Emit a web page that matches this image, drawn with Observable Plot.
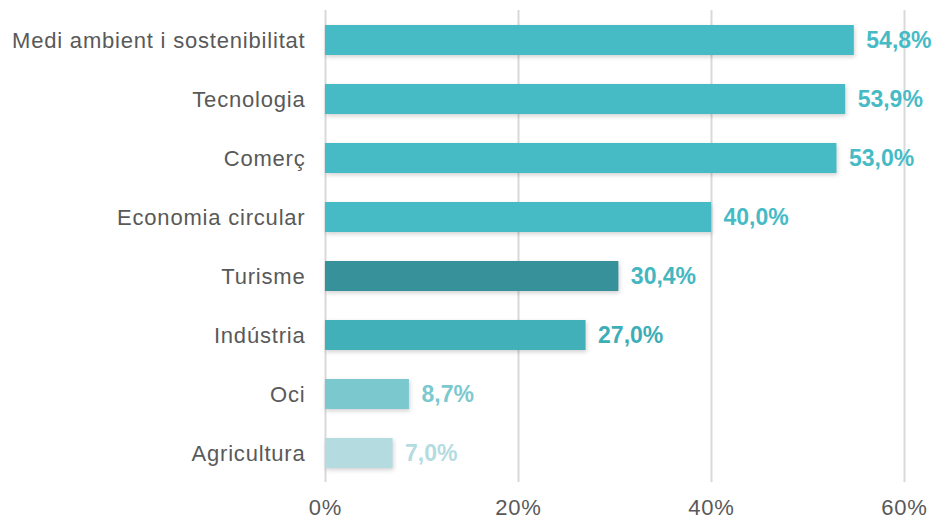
<!DOCTYPE html>
<html>
<head>
<meta charset="utf-8">
<script src="https://cdn.jsdelivr.net/npm/d3@7"></script>
<script src="https://cdn.jsdelivr.net/npm/@observablehq/plot@0.6"></script>
<style>
  html, body { margin: 0; padding: 0; background: #fff; }
  #chart { width: 936px; height: 519px; }
</style>
</head>
<body>
<div id="chart"></div>
<script>
const categories = ["Medi ambient i sostenibilitat", "Tecnologia", "Comerç", "Economia circular", "Turisme", "Indústria", "Oci", "Agricultura"];
const values = [54.8, 53.9, 53.0, 40.0, 30.4, 27.0, 8.7, 7.0];
const xTicks = [0, 20, 40, 60];
const barColors = ["#46BBC6", "#46BBC6", "#46BBC6", "#46BBC6", "#36919A", "#41B0B8", "#7BC9CF", "#B4DCE0"];
const labelColors = ["#46BBC6", "#46BBC6", "#46BBC6", "#46BBC6", "#43B6C0", "#3DAEB7", "#7BC9CF", "#B4DCE0"];

const data = categories.map((c, i) => ({
  category: c, value: values[i], bar: barColors[i], label: labelColors[i]
}));
const fmt = v => v.toFixed(1).replace(".", ",") + "%";

const chart = Plot.plot({
  width: 936,
  height: 519,
  marginLeft: 325,
  marginRight: 32,
  marginTop: 10,
  marginBottom: 37,
  style: { fontFamily: "'Liberation Sans', Arial, sans-serif", background: "#fff" },
  x: { domain: [0, 60], label: null },
  y: { domain: categories, paddingInner: 0.5, paddingOuter: 0.25, label: null },
  marks: [
    Plot.ruleX(xTicks, { stroke: "#d9d9d9", strokeWidth: 2, strokeOpacity: 1 }),
    Plot.barX(data, {
      x: "value", y: "category", fill: d => d.bar,
      imageFilter: "drop-shadow(1px 2px 2px rgba(0,0,0,0.18))"
    }),
    Plot.text(data, {
      x: "value", y: "category", text: d => fmt(d.value),
      fill: d => d.label, textAnchor: "start", dx: 12,
      fontSize: 23, fontWeight: "bold"
    }),
    Plot.axisY({
      label: null, tickSize: 0, tickPadding: 20, fontSize: 22, fill: "#595959"
    }),
    Plot.axisX({
      label: null, ticks: xTicks, tickFormat: d => d + "%", tickSize: 0, tickPadding: 17,
      fontSize: 22, fill: "#595959"
    })
  ]
});
chart.querySelectorAll("g[aria-label='x-axis tick label'] text, g[aria-label='y-axis tick label'] text").forEach(t => t.style.letterSpacing = "0.8px");
document.getElementById("chart").appendChild(chart);
</script>
</body>
</html>
